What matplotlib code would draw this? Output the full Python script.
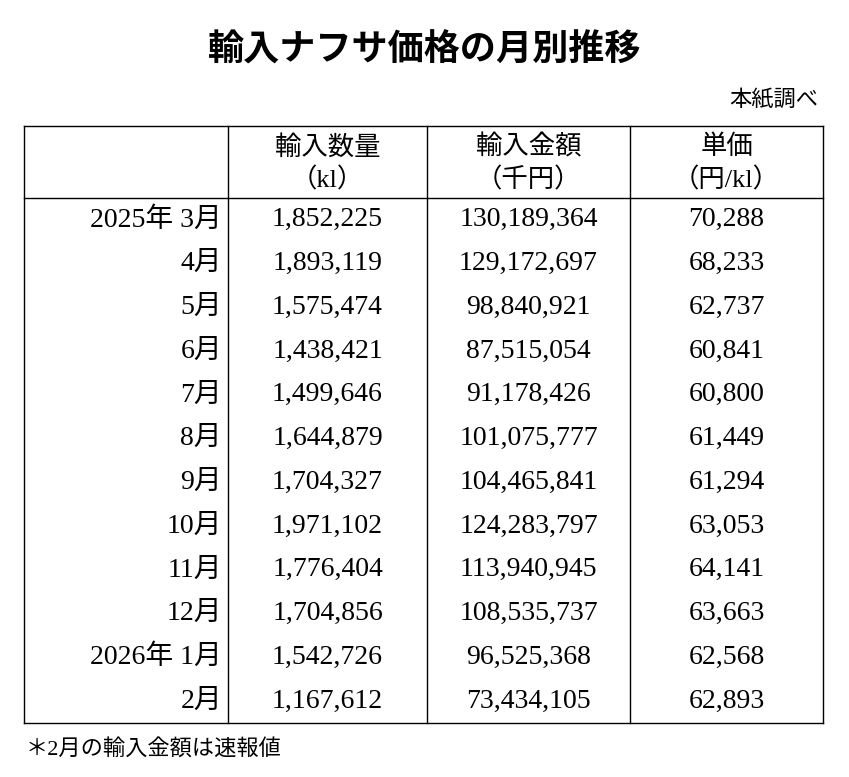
import matplotlib
matplotlib.use("Agg")
import matplotlib.pyplot as plt

# serif digits like the original, CJK glyphs fall back to Noto
plt.rcParams['font.family'] = ['Liberation Serif', 'Noto Sans CJK JP', 'DejaVu Sans']

title = "輸入ナフサ価格の月別推移"
source = "本紙調べ"
note = "＊2月の輸入金額は速報値"
headers = [("輸入数量", "（kl）"), ("輸入金額", "（千円）"), ("単価", "（円/kl）")]
months = ["2025年 3月", "4月", "5月", "6月", "7月", "8月", "9月",
          "10月", "11月", "12月", "2026年 1月", "2月"]
volume = [1852225, 1893119, 1575474, 1438421, 1499646, 1644879,
          1704327, 1971102, 1776404, 1704856, 1542726, 1167612]
amount = [130189364, 129172697, 98840921, 87515054, 91178426, 101075777,
          104465841, 124283797, 113940945, 108535737, 96525368, 73434105]
price = [70288, 68233, 62737, 60841, 60800, 61449,
         61294, 63053, 64141, 63663, 62568, 62893]

W, H = 849, 777
fig = plt.figure(figsize=(W / 100, H / 100), dpi=100)
ax = fig.add_axes([0, 0, 1, 1])
ax.set_xlim(0, W)
ax.set_ylim(H, 0)
ax.axis('off')

# table geometry (pixels)
cols = [24, 228, 427, 630, 823]
top, head_bot, bottom = 126, 198, 723
row_h = (bottom - head_bot) / len(months)
fs = 20

ax.text(W / 2, 50, title, ha='center', va='center', fontsize=26, fontweight='bold',
        family=['Noto Sans CJK JP', 'DejaVu Sans'])
ax.text(818, 100, source, ha='right', va='center', fontsize=16)
ax.text(26, 750, note, ha='left', va='center', fontsize=16)

lw = 1.0
for x in cols:
    ax.plot([x, x], [top, bottom], color='black', lw=lw)
ax.plot([cols[0], cols[-1]], [top, top], color='black', lw=lw)
ax.plot([cols[0], cols[-1]], [bottom, bottom], color='black', lw=lw)
ax.plot([cols[0], cols[-1]], [head_bot, head_bot], color='black', lw=lw)

for i, (h1, h2) in enumerate(headers):
    cx = (cols[i + 1] + cols[i + 2]) / 2
    ax.text(cx, 147, h1, ha='center', va='center', fontsize=fs - 1)
    ax.text(cx, 180, h2, ha='center', va='center', fontsize=fs - 1)

for r, m in enumerate(months):
    y = head_bot + row_h * (r + 0.5)
    ax.text(cols[1] - 6, y, m, ha='right', va='center', fontsize=fs)
    for c, v in enumerate([volume[r], amount[r], price[r]]):
        cx = (cols[c + 1] + cols[c + 2]) / 2
        ax.text(cx, y, f"{v:,}", ha='center', va='center', fontsize=fs)

fig.savefig("out.png", dpi=100)
